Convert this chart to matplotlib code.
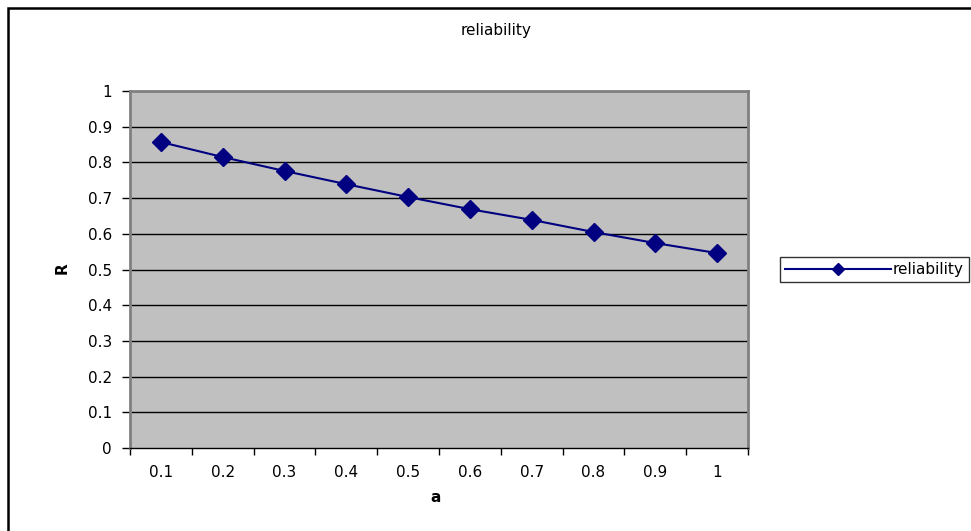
import matplotlib
matplotlib.use("Agg")
import matplotlib.pyplot as plt
from matplotlib.patches import Rectangle
from matplotlib.lines import Line2D

plt.rcParams['font.family'] = ['DejaVu Sans']

a_labels = ["0.1", "0.2", "0.3", "0.4", "0.5", "0.6", "0.7", "0.8", "0.9", "1"]
reliability = [0.857, 0.815, 0.776, 0.739, 0.703, 0.669, 0.639, 0.605, 0.574, 0.546]
y_ticks = [0, 0.1, 0.2, 0.3, 0.4, 0.5, 0.6, 0.7, 0.8, 0.9, 1]

NAVY = "#000080"
FS = 11
W, H = 971, 531
fig = plt.figure(figsize=(W / 100, H / 100), dpi=100)
fig.patch.set_facecolor("white")

# outer chart frame (runs off right and bottom edges)
fig.patches.append(Rectangle((8 / W, -0.1), 1.2, 1.1 - 8 / H, transform=fig.transFigure,
                             fill=False, edgecolor="black", linewidth=1.8))

ax = fig.add_axes([130 / W, (H - 448) / H, (748 - 130) / W, (448 - 91) / H])
ax.set_facecolor("#c0c0c0")

x = list(range(len(a_labels)))
ax.plot(x, reliability, color=NAVY, linewidth=1.5, marker="D",
        markersize=9, markerfacecolor=NAVY, markeredgecolor=NAVY, zorder=3)

ax.set_xlim(-0.5, len(a_labels) - 0.5)
ax.set_ylim(0, 1)
ax.set_yticks(y_ticks)
ax.set_yticklabels([f"{v:g}" for v in y_ticks])
for v in y_ticks[1:-1]:
    ax.axhline(v, color="black", linewidth=1.0, zorder=1)

ax.set_xticks([i - 0.5 for i in range(len(a_labels) + 1)])
ax.set_xticklabels([])
ax.set_xticks(x, minor=True)
ax.set_xticklabels(a_labels, minor=True)
ax.tick_params(axis="x", which="minor", length=0, pad=12, labelsize=FS)
ax.tick_params(axis="x", which="major", length=5, width=1, color="black")
ax.tick_params(axis="y", length=6, width=1, color="black", labelsize=FS, pad=7)

for s in ax.spines.values():
    s.set_color("#808080")
    s.set_linewidth(2)
ax.spines["bottom"].set_color("black")
ax.spines["bottom"].set_linewidth(1)

fig.text(496 / W, 1 - 31 / H, "reliability", ha="center", va="center", fontsize=FS)
fig.text(436 / W, 1 - 498 / H, "a", ha="center", va="center", fontsize=FS, fontweight="bold")
fig.text(62 / W, 1 - 268 / H, "R", ha="center", va="center", fontsize=FS,
         fontweight="bold", rotation=90)

handle = Line2D([], [], color=NAVY, linewidth=1.5, marker="D", markersize=6,
                markerfacecolor=NAVY, markeredgecolor=NAVY)
leg = fig.legend(handles=[handle], labels=["reliability"], loc="center",
                 bbox_to_anchor=(874.5 / W, 1 - 269.5 / H),
                 fontsize=FS, frameon=True, fancybox=False, handlelength=6.9,
                 borderpad=0.35, handletextpad=0.15, borderaxespad=0)
leg.get_frame().set_edgecolor("black")
leg.get_frame().set_linewidth(1)

fig.savefig("out.png", dpi=100)
